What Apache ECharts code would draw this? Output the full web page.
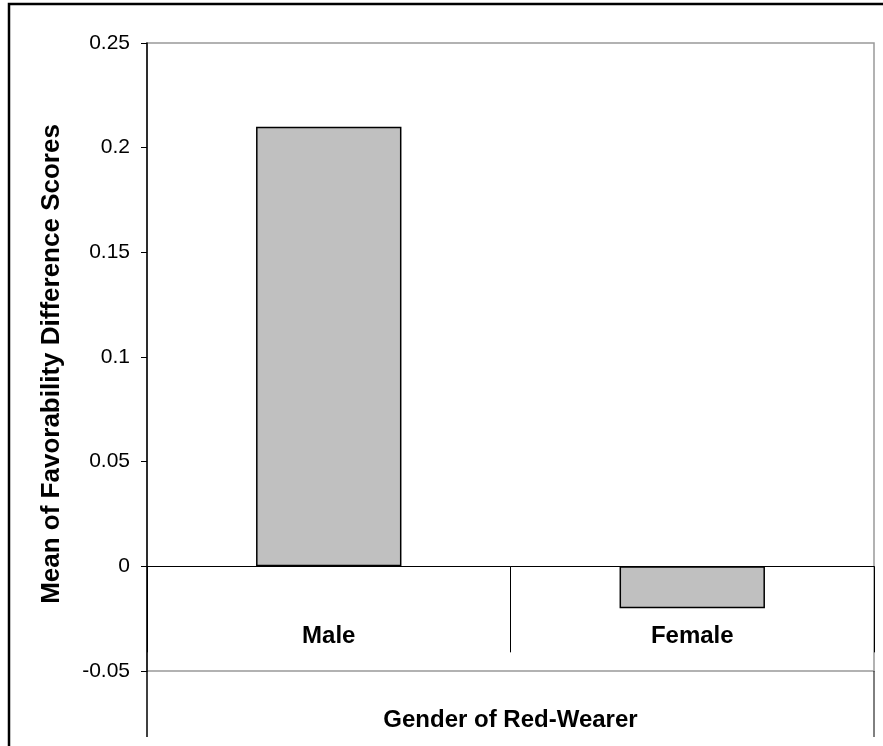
<!DOCTYPE html>
<html>
<head>
<meta charset="utf-8">
<script src="https://cdn.jsdelivr.net/npm/echarts@6/dist/echarts.min.js"></script>
<style>
html,body{margin:0;padding:0;background:#fff;}
#chart{width:883px;height:746px;}
</style>
</head>
<body>
<div id="chart"></div>
<script>
var categories = ['Male', 'Female'];
var values = [0.21, -0.02];
var yTicks = [-0.05, 0, 0.05, 0.1, 0.15, 0.2, 0.25];
var yTitle = 'Mean of Favorability Difference Scores';
var xTitle = 'Gender of Red-Wearer';

var G = {left: 147, right: 874, top: 43, bottom: 671};
var font = 'Arial, "Liberation Sans", Helvetica, sans-serif';

var chart = echarts.init(document.getElementById('chart'), null, {renderer: 'canvas'});
chart.setOption({
  backgroundColor: '#fff',
  animation: false,
  grid: {
    left: G.left, top: G.top, width: G.right - G.left, height: G.bottom - G.top,
    containLabel: false, outerBoundsMode: 'none',
    show: true, borderColor: '#999', borderWidth: 1.5, backgroundColor: 'transparent'
  },
  xAxis: {
    type: 'category',
    data: categories,
    axisLine: {show: true, onZero: true, lineStyle: {color: '#000', width: 1}},
    axisTick: {show: true, length: 86, inside: false, lineStyle: {color: '#000', width: 1}},
    axisLabel: {margin: -47, color: '#000', fontSize: 24, fontWeight: 'bold', fontFamily: font},
    splitLine: {show: false},
    name: xTitle,
    nameLocation: 'middle',
    nameGap: 37,
    nameTextStyle: {color: '#000', fontSize: 24, fontWeight: 'bold', fontFamily: font}
  },
  yAxis: {
    type: 'value',
    min: yTicks[0],
    max: yTicks[yTicks.length - 1],
    interval: 0.05,
    axisLine: {show: true, lineStyle: {color: '#000', width: 1.5}},
    axisTick: {show: true, length: 6, lineStyle: {color: '#000', width: 1}},
    axisLabel: {
      margin: 17, color: '#000', fontSize: 21, fontFamily: font,
      formatter: function (v) { return String(Math.round(v * 100) / 100); }
    },
    splitLine: {show: false}
  },
  series: [{
    type: 'bar',
    data: values,
    barWidth: '40%',
    itemStyle: {color: '#c0c0c0', borderColor: '#000', borderWidth: 1.5}
  }],
  graphic: [
    {type: 'rect', shape: {x: 9, y: 4, width: 900, height: 800},
     style: {fill: 'none', stroke: '#000', lineWidth: 2.5}, z: 100},
    {type: 'line', shape: {x1: G.left, y1: G.bottom, x2: G.left, y2: 737},
     style: {stroke: '#000', lineWidth: 1.5}, z: 100},
    {type: 'line', shape: {x1: G.right, y1: G.bottom, x2: G.right, y2: 737},
     style: {stroke: '#000', lineWidth: 1}, z: 100},
    {type: 'text', x: 52, y: 364, rotation: Math.PI / 2,
     style: {text: yTitle, fill: '#000', font: 'bold 26px ' + font,
             textAlign: 'center', textVerticalAlign: 'middle'}, z: 100}
  ]
});
</script>
</body>
</html>
